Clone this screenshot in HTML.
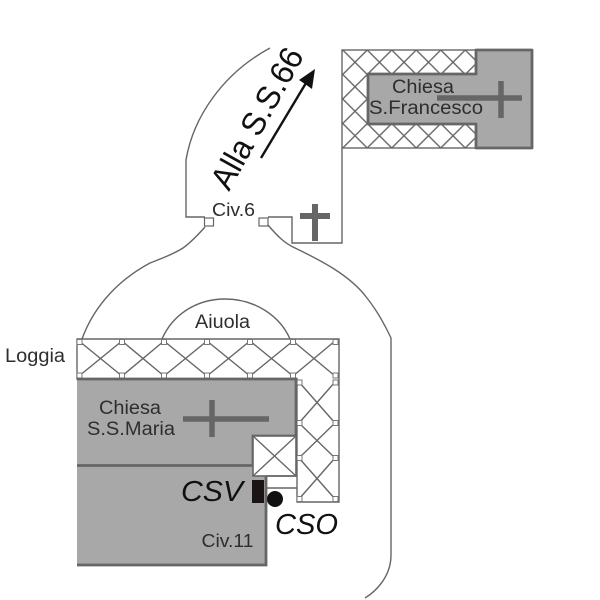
<!DOCTYPE html>
<html><head><meta charset="utf-8"><style>
html,body{margin:0;padding:0;background:#fff;width:600px;height:600px;overflow:hidden}
svg{display:block}
text{font-family:"Liberation Sans",sans-serif;fill:#2e2e2e}
</style></head><body>
<svg width="600" height="600" viewBox="0 0 600 600" xmlns="http://www.w3.org/2000/svg">
<defs>
<pattern id="x" x="342.75" y="50" width="24.5" height="24.5" patternUnits="userSpaceOnUse">
<path d="M0 0L24.5 24.5M24.5 0L0 24.5" stroke="#666" stroke-width="1.4"/>
</pattern>
</defs>
<g fill="none" stroke="#666" stroke-width="1.4">
<path d="M270 48C222 74 193 118 186 160V217H205"/>
<path d="M268 217H292V243H342V148"/>
<path d="M205 227C197 236 190 243 183 248C172 255 160 259 150 263C122 278 95 303 82 339"/>
<path d="M268 225C278 237 285 243 293 247C320 260 350 275 367 298C378 312 385 325 391 338V555C391 575 378 590 365 598"/>
<path d="M162 339C172 316 195 299 225 299C255 299 280 316 290 339"/>
</g>
<rect x="342" y="50" width="134" height="98" fill="url(#x)" stroke="#666" stroke-width="1.4"/>
<path d="M476 50H532V148H476V124H368V74H476Z" fill="#a8a8a8" stroke="#666" stroke-width="2.8" stroke-linejoin="round"/>
<path d="M501 81V118M437 98H522" stroke="#666" stroke-width="5.5" fill="none"/>
<text x="392" y="93" font-size="19" textLength="62" lengthAdjust="spacingAndGlyphs">Chiesa</text>
<text x="369" y="114" font-size="19" textLength="114" lengthAdjust="spacingAndGlyphs">S.Francesco</text>
<path d="M261 158L306 83" stroke="#111" stroke-width="2.4" fill="none"/>
<path d="M315 69L312 89L305 84L299 80Z" fill="#111"/>
<text transform="translate(229,192) rotate(-61)" font-size="33" textLength="156" lengthAdjust="spacingAndGlyphs" style="fill:#111">Alla S.S.66</text>
<path d="M315 204V241M300 216H330" stroke="#666" stroke-width="6" fill="none"/>
<text x="212" y="216" font-size="18.500" textLength="43" lengthAdjust="spacingAndGlyphs">Civ.6</text>
<rect x="204.500" y="218" width="9" height="8" fill="#fff" stroke="#666" stroke-width="1.2"/>
<rect x="259" y="218" width="9" height="8" fill="#fff" stroke="#666" stroke-width="1.2"/>
<g fill="none" stroke="#666" stroke-width="1.4">
<path d="M77 339H339V502H297V379H77Z" fill="#fff"/>
<path d="M79 341L122 376L164 341L207 376L250 341L293 376L335 341"/>
<path d="M79 376L122 341L164 376L207 341L250 376L293 341L335 376"/>
<path d="M299 382L335 423L299 458L335 499M335 382L299 423L335 458L299 499"/>
</g>
<g fill="#fff" stroke="#777" stroke-width="1">
<rect x="77" y="339.500" width="5" height="5"/><rect x="119.500" y="339.500" width="5" height="5"/><rect x="161.500" y="339.500" width="5" height="5"/><rect x="204.500" y="339.500" width="5" height="5"/><rect x="247.500" y="339.500" width="5" height="5"/><rect x="290.500" y="339.500" width="5" height="5"/><rect x="333" y="339.500" width="5" height="5"/>
<rect x="77" y="373" width="5" height="5"/><rect x="119.500" y="373" width="5" height="5"/><rect x="161.500" y="373" width="5" height="5"/><rect x="204.500" y="373" width="5" height="5"/><rect x="247.500" y="373" width="5" height="5"/><rect x="290.500" y="373" width="5" height="5"/><rect x="333" y="373" width="5" height="5"/>
<rect x="297" y="380" width="5" height="5"/><rect x="297" y="420.500" width="5" height="5"/><rect x="297" y="455.500" width="5" height="5"/><rect x="297" y="496.500" width="5" height="5"/>
<rect x="333" y="380" width="5" height="5"/><rect x="333" y="420.500" width="5" height="5"/><rect x="333" y="455.500" width="5" height="5"/><rect x="333" y="496.500" width="5" height="5"/>
</g>
<path d="M77 379H296V436H253V476H266V565H77Z" fill="#a8a8a8"/>
<path d="M77 379H296V436H253V466M77 465.500H253M266 476V565H77" fill="none" stroke="#666" stroke-width="2.8"/>
<rect x="253" y="436" width="43" height="40" fill="#fff" stroke="#666" stroke-width="1.6"/>
<path d="M253 436L296 476M296 436L253 476" stroke="#666" stroke-width="1.3"/>
<path d="M266 476H297M266 488H297" stroke="#666" stroke-width="1.6" fill="none"/>
<path d="M212 400V437M183 419H269" stroke="#666" stroke-width="5.5" fill="none"/>
<rect x="252" y="480" width="12" height="23" fill="#1a1414"/>
<circle cx="275" cy="499" r="8" fill="#111"/>
<text x="5" y="362" font-size="19" textLength="60" lengthAdjust="spacingAndGlyphs">Loggia</text>
<text x="195" y="328" font-size="19" textLength="55" lengthAdjust="spacingAndGlyphs">Aiuola</text>
<text x="99" y="414" font-size="19" textLength="62" lengthAdjust="spacingAndGlyphs">Chiesa</text>
<text x="87" y="435" font-size="19" textLength="88" lengthAdjust="spacingAndGlyphs">S.S.Maria</text>
<text x="181" y="501" font-size="29" font-style="italic" textLength="62" lengthAdjust="spacingAndGlyphs" style="fill:#111">CSV</text>
<text x="275" y="534" font-size="29" font-style="italic" textLength="63" lengthAdjust="spacingAndGlyphs" style="fill:#111">CSO</text>
<text x="201.500" y="547" font-size="18.500" textLength="52" lengthAdjust="spacingAndGlyphs">Civ.11</text>
</svg>
</body></html>
